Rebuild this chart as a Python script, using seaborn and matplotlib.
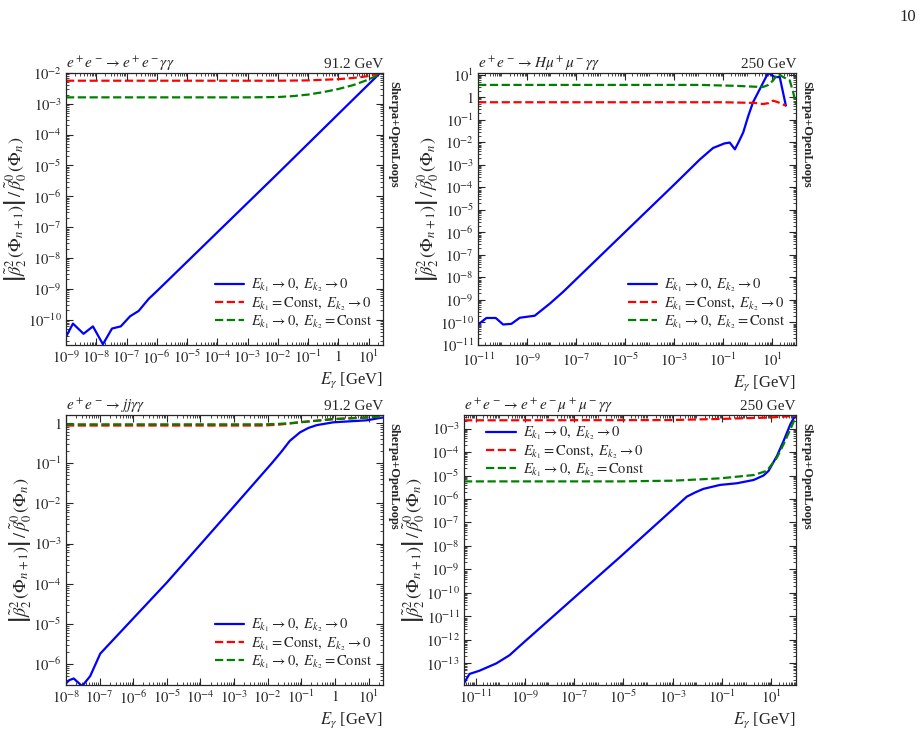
import numpy as np
import pandas as pd
import matplotlib
matplotlib.use('Agg')
import matplotlib.pyplot as plt
from matplotlib.ticker import FixedLocator, LogLocator, FuncFormatter, NullFormatter
import seaborn as sns

# values, stored as log10(E_gamma) and log10(ratio)

# e+e- -> e+e- gamma gamma, 91.2 GeV
ee_blue_x = [-9.0, -8.77, -8.42, -8.11, -7.78, -7.48, -7.19, -6.88, -6.60, -6.27, -5.99, -4.0, -2.0, 0.0, 1.36]
ee_blue_y = [-10.56, -10.13, -10.46, -10.22, -10.80, -10.29, -10.22, -9.89, -9.72, -9.33, -9.07, -7.17, -5.26, -3.33, -2.02]
ee_red_x = [-9.0, -3.0, -2.0, -1.0, -0.5, 0.0, 0.5, 0.92, 1.2, 1.45]
ee_red_y = [-2.25, -2.25, -2.25, -2.24, -2.22, -2.20, -2.16, -2.11, -2.05, -1.98]
ee_green_x = [-9.0, -3.0, -2.0, -1.5, -1.0, -0.5, 0.0, 0.5, 0.92, 1.2, 1.45]
ee_green_y = [-2.79, -2.79, -2.78, -2.75, -2.70, -2.62, -2.52, -2.39, -2.24, -2.12, -2.0]

# e+e- -> H mu+ mu- gamma gamma, 250 GeV
hmm_blue_x = [-11.0, -10.66, -10.28, -9.98, -9.64, -9.30, -8.69, -8.07, -7.53, -5.0, -3.0, -1.95, -1.41,
              -0.95, -0.73, -0.52, -0.35, -0.18, 0.02, 0.22, 0.50, 0.84, 1.11, 1.31, 1.56]
hmm_blue_y = [-10.09, -9.80, -9.80, -10.09, -10.06, -9.79, -9.70, -9.16, -8.64, -5.98, -3.88, -2.76, -2.25,
              -2.05, -2.01, -2.31, -1.95, -1.56, -0.85, -0.22, 0.37, 1.09, 0.90, 0.90, -0.37]
hmm_red_x = [-11.0, -1.0, 0.30, 0.63, 0.85, 1.04, 1.24, 1.56]
hmm_red_y = [-0.22, -0.22, -0.25, -0.30, -0.26, -0.15, -0.22, -0.37]
hmm_green_x = [-11.0, -1.95, -0.5, 0.30, 0.63, 0.85, 1.04, 1.24, 1.45, 1.72, 1.86, 1.97]
hmm_green_y = [0.55, 0.55, 0.51, 0.47, 0.46, 0.55, 0.75, 1.04, 0.90, 0.75, 0.22, -0.30]

# e+e- -> j j gamma gamma, 91.2 GeV
jj_blue_x = [-8.0, -7.90, -7.77, -7.52, -7.28, -6.98, -5.0, -3.0, -1.88, -1.6, -1.34, -1.04, -0.79,
             -0.54, -0.05, 0.94, 1.42]
jj_blue_y = [-6.48, -6.40, -6.36, -6.55, -6.30, -5.74, -3.97, -2.07, -1.0, -0.72, -0.44, -0.23, -0.12,
             -0.05, 0.02, 0.07, 0.14]
jj_red_x = [-8.0, -3.0, -2.13, -1.7, -1.34, -0.94, -0.54, -0.05, 0.94, 1.42]
jj_red_y = [-0.06, -0.06, -0.06, -0.04, -0.01, 0.03, 0.06, 0.10, 0.14, 0.17]
jj_green_x = [-8.0, -3.0, -2.13, -1.7, -1.34, -0.94, -0.54, -0.05, 0.94, 1.42]
jj_green_y = [-0.03, -0.03, -0.03, -0.02, 0.0, 0.03, 0.06, 0.10, 0.14, 0.17]

# e+e- -> e+e- mu+ mu- gamma gamma, 250 GeV
eemm_blue_x = [-11.47, -11.25, -10.84, -10.16, -9.62, -9.21, -5.14, -2.43, -2.09, -1.76, -1.08, -0.40,
               0.28, 0.68, 0.89, 1.23, 1.50, 1.77, 1.98]
eemm_blue_y = [-13.85, -13.45, -13.31, -13.0, -12.65, -12.26, -8.47, -5.9, -5.72, -5.57, -5.40, -5.33,
               -5.19, -5.0, -4.80, -4.16, -3.52, -2.82, -2.42]
eemm_red_x = [-11.47, -3.14, -1.08, 0.93, 1.98]
eemm_red_y = [-2.65, -2.64, -2.59, -2.53, -2.46]
eemm_green_x = [-11.47, -5.14, -2.97, -1.08, 0.28, 0.82, 1.23, 1.50, 1.77, 1.98]
eemm_green_y = [-5.25, -5.25, -5.22, -5.12, -4.98, -4.80, -4.23, -3.66, -3.03, -2.53]

labels = [r'$E_{k_1}\to 0,\ E_{k_2}\to 0$',
          r'$E_{k_1}=\mathrm{Const},\ E_{k_2}\to 0$',
          r'$E_{k_1}\to 0,\ E_{k_2}=\mathrm{Const}$']

panels = [
    dict(proc=r'$e^+e^-\to e^+e^-\gamma\gamma$', energy='91.2 GeV',
         curves=[(ee_blue_x, ee_blue_y), (ee_red_x, ee_red_y), (ee_green_x, ee_green_y)],
         xlim=(1e-9, 30), ylim=(1.5e-11, 1e-2),
         xmaj=list(range(-9, 2)), ymaj=list(range(-10, -1)), legend='lower right',
         pos=[0.0715, 0.5274, 0.3435, 0.3726], xpad=3),
    dict(proc=r'$e^+e^-\to H\mu^+\mu^-\gamma\gamma$', energy='250 GeV',
         curves=[(hmm_blue_x, hmm_blue_y), (hmm_red_x, hmm_red_y), (hmm_green_x, hmm_green_y)],
         xlim=(1e-11, 95), ylim=(1e-11, 12),
         xmaj=list(range(-11, 2, 2)), ymaj=list(range(-11, 2)), legend='lower right',
         pos=[0.518, 0.5274, 0.3445, 0.3726], xpad=5),
    dict(proc=r'$e^+e^-\to jj\gamma\gamma$', energy='91.2 GeV',
         curves=[(jj_blue_x, jj_blue_y), (jj_red_x, jj_red_y), (jj_green_x, jj_green_y)],
         xlim=(1e-8, 27), ylim=(3e-7, 1.6),
         xmaj=list(range(-8, 2)), ymaj=list(range(-6, 1)), legend='lower right',
         pos=[0.0715, 0.0616, 0.3435, 0.37], xpad=3),
    dict(proc=r'$e^+e^-\to e^+e^-\mu^+\mu^-\gamma\gamma$', energy='250 GeV',
         curves=[(eemm_blue_x, eemm_blue_y), (eemm_red_x, eemm_red_y), (eemm_green_x, eemm_green_y)],
         xlim=(10 ** -11.47, 100), ylim=(1.2e-14, 3.8e-3),
         xmaj=list(range(-11, 2, 2)), ymaj=list(range(-13, -2)), legend='upper left',
         pos=[0.5027, 0.0616, 0.3597, 0.37], xpad=3),
]

colors = ['#0000ff', '#ff0000', '#008000']
styles = ['-', '--', '--']


def log_label(v, pos):
    e = int(round(np.log10(v)))
    if e == 0:
        return r'$1$'
    return r'$10^{%d}$' % e


sns.set_theme(style='ticks')
plt.rcParams['font.family'] = ['Liberation Serif', 'DejaVu Serif']
plt.rcParams['mathtext.fontset'] = 'stix'
plt.rcParams['font.size'] = 11

fig = plt.figure(figsize=(9.23, 7.3), dpi=100)
fig.text(0.992, 0.977, '10', ha='right', va='center', fontsize=12)

ylab = r'$\left|\tilde{\beta}_2^2\,(\Phi_{n+1})\right|\,/\,\tilde{\beta}_0^0\,(\Phi_n)$'

for p in panels:
    ax = fig.add_axes(p['pos'])
    ax.set_xscale('log')
    ax.set_yscale('log')
    for (cx, cy), c, ls, lab in zip(p['curves'], colors, styles, labels):
        df = pd.DataFrame({'E': 10.0 ** np.array(cx), 'r': 10.0 ** np.array(cy)})
        sns.lineplot(data=df, x='E', y='r', ax=ax, color=c, linestyle=ls, lw=1.6,
                     label=lab, sort=False)
    ax.set_xlim(*p['xlim'])
    ax.set_ylim(*p['ylim'])

    ax.xaxis.set_major_locator(FixedLocator([10.0 ** e for e in p['xmaj']]))
    ax.yaxis.set_major_locator(FixedLocator([10.0 ** e for e in p['ymaj']]))
    ax.xaxis.set_major_formatter(FuncFormatter(log_label))
    ax.yaxis.set_major_formatter(FuncFormatter(log_label))
    ax.xaxis.set_minor_locator(LogLocator(base=10, subs=np.arange(2, 10), numticks=200))
    ax.yaxis.set_minor_locator(LogLocator(base=10, subs=np.arange(2, 10), numticks=200))
    ax.xaxis.set_minor_formatter(NullFormatter())
    ax.yaxis.set_minor_formatter(NullFormatter())
    ax.tick_params(which='both', direction='in', top=True, right=True, labelsize=10.5, pad=3)
    ax.tick_params(axis='x', which='major', pad=p['xpad'])
    ax.tick_params(which='major', length=5, width=0.8)
    ax.tick_params(which='minor', length=2.5, width=0.6)
    for s in ax.spines.values():
        s.set_linewidth(0.9)

    ax.set_xlabel(r'$E_\gamma$ [GeV]', loc='right', fontsize=12, labelpad=3)
    ax.set_ylabel(ylab, fontsize=13, labelpad=0)
    ax.set_title(p['proc'], loc='left', fontsize=11, pad=1)
    ax.set_title(p['energy'], loc='right', fontsize=11, pad=1)
    ax.text(1.012, 0.97, 'Sherpa+OpenLoops', transform=ax.transAxes, rotation=270,
            ha='left', va='top', fontsize=9, fontweight='bold')

    if p['legend'] == 'upper left':
        ax.legend(loc='upper left', bbox_to_anchor=(0.05, 0.985), frameon=False, fontsize=10.5,
                  handlelength=2.0, handletextpad=0.5, labelspacing=0.05, borderaxespad=0.0)
    else:
        ax.legend(loc='lower right', bbox_to_anchor=(0.985, 0.03), frameon=False, fontsize=10.5,
                  handlelength=2.0, handletextpad=0.5, labelspacing=0.05, borderaxespad=0.0)

fig.savefig('out.png', dpi=100)
